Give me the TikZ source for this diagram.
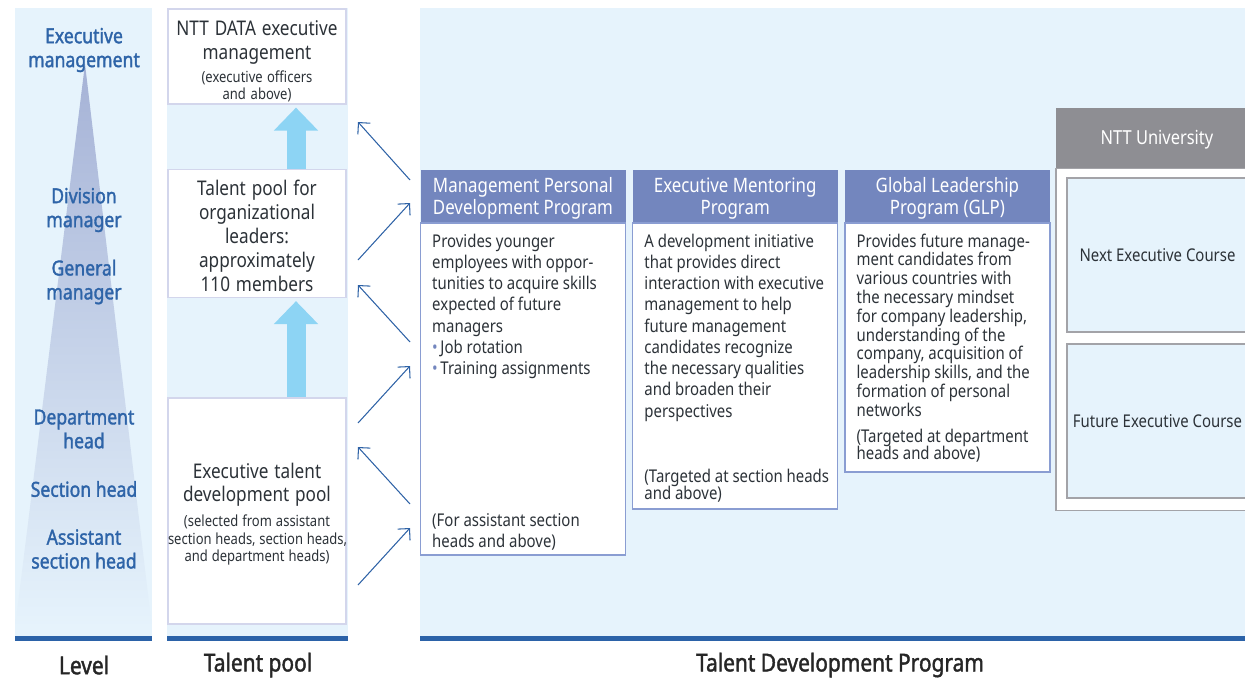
\documentclass[tikz,border=0pt]{standalone}
\usepackage{fontspec}
\setmainfont{Noto Sans}[FakeStretch=0.85,BoldFont={Noto Sans},BoldFeatures={FakeBold=1.6}]
\usepackage{xcolor}
\usepackage{tikz}
\usetikzlibrary{positioning,arrows.meta}

\definecolor{bgblue}{HTML}{E6F3FC}
\definecolor{barblue}{HTML}{2B62A8}
\definecolor{lvlblue}{HTML}{2E64A8}
\definecolor{tritop}{HTML}{A5B2D6}
\definecolor{poolborder}{HTML}{D3D6EC}
\definecolor{poolarrow}{HTML}{8DD4F4}
\definecolor{hdrblue}{HTML}{7386BE}
\definecolor{bodyborder}{HTML}{8A9DD2}
\definecolor{linkblue}{HTML}{2E62A6}
\definecolor{unigray}{HTML}{8E8E93}
\definecolor{uniborder}{HTML}{A3A3A8}
\definecolor{txtgray}{HTML}{2C3238}

\newcommand{\px}{0.02cm}
\newcommand{\pooltitle}{\fontsize{11.5}{13.6}\selectfont}
\newcommand{\poolsub}{\fontsize{8.7}{10}\selectfont\spaceskip=0.24em plus 0.05em minus 0.05em}
\newcommand{\bul}{{\color{hdrblue}\textbullet}\hspace{1.5pt}}

\begin{document}
\begin{tikzpicture}[
x=0.02cm,y=-0.02cm,
>={Straight Barb[length=4.8pt,width=9.6pt]},
lvl/.style={
align=center,
font=\fontsize{11.8}{13.6}\selectfont\bfseries,
text=lvlblue
},
caption/.style={
inner sep=0pt,
font=\fontsize{14}{15.5}\selectfont\bfseries,
text=black!85
},
poolbox/.style={
draw=poolborder,
line width=1.1pt,
fill=white,
minimum width=178*\px,
text width=178*\px,
inner sep=0pt,
align=center,
text=txtgray
},
bigarrow/.style={
draw=poolarrow,
line width=19*\px,
-{Triangle[width=43*\px,length=23*\px]},
shorten >=1.5pt
},
link/.style={
->,
draw=linkblue,
line width=0.6pt
},
hdr/.style={
fill=hdrblue,
minimum width=205*\px,
minimum height=52*\px,
inner sep=0pt,
text depth=-1.5pt,
align=center,
text=white,
font=\fontsize{11.3}{12.5}\selectfont
},
body/.style={
draw=bodyborder,
line width=0.7pt,
fill=white,
minimum width=205*\px,
inner sep=0pt
},
bodytxt/.style={
inner sep=0pt,
align=left,
text=txtgray,
font=\fontsize{10}{12.1}\selectfont
},
unibox/.style={
draw=uniborder,
line width=0.8pt,
fill=bgblue,
minimum width=181*\px,
minimum height=154*\px,
inner sep=0pt,
text=txtgray,
font=\fontsize{10}{12}\selectfont
}
]

\useasboundingbox (0,0) rectangle (1245,681);

%%%%%%%%%%%%%%%%%%%%%%%%%%%%%%%%%%%%
% Columns
%%%%%%%%%%%%%%%%%%%%%%%%%%%%%%%%%%%%

\fill[bgblue] (15,8) rectangle (152,637);
\fill[bgblue] (167,8) rectangle (348,637);
\fill[bgblue] (420,8) rectangle (1245,637);

\fill[barblue] (15,636) rectangle (152,641);
\fill[barblue] (167,636) rectangle (348,641);
\fill[barblue] (420,636) rectangle (1245,641);

\shade[top color=tritop,bottom color=bgblue] (85,64) -- (152,628) -- (15,628) -- cycle;

%%%%%%%%%%%%%%%%%%%%%%%%%%%%%%%%%%%%
% Level
%%%%%%%%%%%%%%%%%%%%%%%%%%%%%%%%%%%%

\node[lvl] (exec) at (84,50) {Executive\\management};

\node[lvl] (divmgr) at (84,210) {Division\\manager};

\node[lvl] (genmgr) at (84,282) {General\\manager};

\node[lvl] (depthead) at (84,429) {Department\\head};

\node[lvl] (secthead) at (84,489) {Section head};

\node[lvl] (assthead) at (84,549) {Assistant\\section head};

%%%%%%%%%%%%%%%%%%%%%%%%%%%%%%%%%%%%
% Talent pool
%%%%%%%%%%%%%%%%%%%%%%%%%%%%%%%%%%%%

\node[poolbox,minimum height=95*\px] (pool1) at (257,56.5)
{{\pooltitle NTT DATA executive\\management\par}
{\poolsub\vspace{3pt}(executive officers\\and above)\par}\vspace{-5.6pt}};

\node[poolbox,minimum height=128*\px] (pool2) at (257,233.5)
{{\pooltitle Talent pool for\\organizational\\leaders:\\approximately\\110 members\par}\vspace{-2.8pt}};

\node[poolbox,minimum height=226*\px] (pool3) at (257,511)
{{\pooltitle Executive talent\\development pool\par}
{\poolsub\vspace{4pt}(selected from assistant\\\mbox{section heads, section heads,}\\and department heads)\par}\vspace{-3.4pt}};

\coordinate (ax) at (296,0);

\draw[bigarrow] (pool2.north -| ax) -- (pool1.south -| ax);

\draw[bigarrow] (pool3.north -| ax) -- (pool2.south -| ax);

%%%%%%%%%%%%%%%%%%%%%%%%%%%%%%%%%%%%
% Links
%%%%%%%%%%%%%%%%%%%%%%%%%%%%%%%%%%%%

\coordinate (t1) at (410,180);
\coordinate (h1) at (358,122);
\coordinate (t2) at (358,260);
\coordinate (h2) at (410,203);
\coordinate (t3) at (410,342);
\coordinate (h3) at (358,285);
\coordinate (t4) at (358,423);
\coordinate (h4) at (410,366);
\coordinate (t5) at (410,504);
\coordinate (h5) at (358,447);
\coordinate (t6) at (358,585);
\coordinate (h6) at (410,528);

\draw[link] (t1) -- (h1);
\draw[link] (t2) -- (h2);
\draw[link] (t3) -- (h3);
\draw[link] (t4) -- (h4);
\draw[link] (t5) -- (h5);
\draw[link] (t6) -- (h6);

%%%%%%%%%%%%%%%%%%%%%%%%%%%%%%%%%%%%
% Programs
%%%%%%%%%%%%%%%%%%%%%%%%%%%%%%%%%%%%

\node[hdr] (mpdpHd) at (523,196)
{Management Personal\\Development Program};

\node[hdr,right=0.13cm of mpdpHd] (empHd)
{Executive Mentoring\\Program};

\node[hdr,right=0.13cm of empHd] (glpHd)
{Global Leadership\\Program (GLP)};

\node[body,minimum height=332*\px,below=0pt of mpdpHd] (mpdp) {};

\node[body,minimum height=286*\px,below=0pt of empHd] (emp) {};

\node[body,minimum height=249*\px,below=0pt of glpHd] (glp) {};

\node[bodytxt,below right=0.22cm and 0.24cm of mpdp.north west] (mpdpTxt)
{Provides younger\\
employees with oppor-\\
tunities to acquire skills\\
expected of future\\
managers\\
\bul Job rotation\\
\bul Training assignments};

\node[bodytxt,above right=0.09cm and 0.24cm of mpdp.south west] (mpdpNote)
{(For assistant section\\
heads and above)};

\node[bodytxt,below right=0.22cm and 0.24cm of emp.north west] (empTxt)
{A development initiative\\
that provides direct\\
interaction with executive\\
management to help\\
future management\\
candidates recognize\\
the necessary qualities\\
and broaden their\\
perspectives};

\node[bodytxt,font=\fontsize{10}{10.2}\selectfont,
above right=0.13cm and 0.24cm of emp.south west] (empNote)
{(Targeted at section heads\\
and above)};

\node[bodytxt,font=\fontsize{10}{10.7}\selectfont,
below right=0.22cm and 0.24cm of glp.north west] (glpTxt)
{Provides future manage-\\
ment candidates from\\
various countries with\\
the necessary mindset\\
for company leadership,\\
understanding of the\\
company, acquisition of\\
leadership skills, and the\\
formation of personal\\
networks};

\node[bodytxt,font=\fontsize{10}{10.2}\selectfont,
below=0.23cm of glpTxt.south west,anchor=north west] (glpNote)
{(Targeted at department\\
heads and above)};

%%%%%%%%%%%%%%%%%%%%%%%%%%%%%%%%%%%%
% NTT University
%%%%%%%%%%%%%%%%%%%%%%%%%%%%%%%%%%%%

\node[fill=unigray,minimum width=202*\px,minimum height=60*\px,text depth=-1.5pt,
text=white,font=\fontsize{11}{12.5}\selectfont] (nttHd) at (1157,137.5)
{NTT University};

\node[draw=uniborder,line width=0.8pt,fill=white,minimum width=202*\px,
minimum height=342*\px,inner sep=0pt,below=0pt of nttHd] (ntt) {};

\node[unibox] (nextCourse) at (1157.5,255)
{Next Executive Course};

\node[unibox] (futureCourse) at (1157.5,421)
{Future Executive Course};

%%%%%%%%%%%%%%%%%%%%%%%%%%%%%%%%%%%%
% Captions
%%%%%%%%%%%%%%%%%%%%%%%%%%%%%%%%%%%%

\node[caption] (levelCap) at (84,665) {Level};

\node[caption] (poolCap) at (258,665) {Talent pool};

\node[caption] (progCap) at (840,665) {Talent Development Program};

\end{tikzpicture}
\end{document}
